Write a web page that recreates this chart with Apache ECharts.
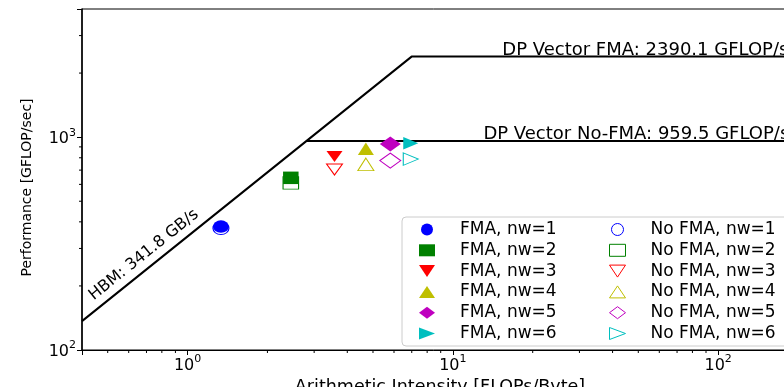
<!DOCTYPE html>
<html>
<head>
<meta charset="utf-8">
<script src="https://cdn.jsdelivr.net/npm/echarts@6/dist/echarts.min.js"></script>
<style>
    html, body { margin: 0; padding: 0; background: #fff; }
    #roofline-chart { width: 784px; height: 387px; }
</style>
</head>
<body>
<div id="roofline-chart"></div>
<script>
// measured kernels, one point per worker count
var workers = [1, 2, 3, 4, 5, 6];
var intensity = [1.336, 2.45, 3.58, 4.70, 5.81, 6.94];
var perfFma = [380, 644, 812, 882, 929, 937];
var perfNoFma = [373, 610, 705, 745, 776, 789];

// roofs
var roofFma = [[0.4, 136.7], [6.99, 2390.1], [200, 2390.1]];
var roofNoFma = [[2.807, 959.5], [200, 959.5]];
var roofText = [[15.3, 2556, 'DP Vector FMA: 2390.1 GFLOP/s'], [12.98, 1031, 'DP Vector No-FMA: 959.5 GFLOP/s']];
var hbmText = [[0.685, 280, 'HBM: 341.8 GB/s']];

// axes
var xRange = [0.4, 200];
var yRange = [100, 4000];
var xMinor = [0.5, 0.6, 0.7, 0.8, 0.9, 2, 3, 4, 5, 6, 7, 8, 9, 20, 30, 40, 50, 60, 70, 80, 90];
var yMinor = [200, 300, 400, 500, 600, 700, 800, 900, 2000, 3000];

var colors = ['#0000ff', '#008000', '#ff0000', '#bfbf00', '#bf00bf', '#00bfbf'];
var symbols = [
    'circle',
    'rect',
    'path://M0,0L10,0L5,10Z',
    'path://M5,0L10,10L0,10Z',
    'diamond',
    'path://M0,0L10,5L0,10Z'
];
var sizes = [[16, 12.5], [15.5, 12.5], [16, 11], [16, 12.5], [21, 15], [15, 12.5]];

var font = 'DejaVu Sans';

function powLabel(v) {
    var e = Math.log10(v);
    var r = Math.round(e);
    if (Math.abs(e - r) > 1e-6) return '';
    return '{b|10}{s|' + r + '}';
}

var labelRich = {
    b: { fontFamily: font, fontSize: 16, color: '#000', padding: [4, 0, 0, 0] },
    s: { fontFamily: font, fontSize: 11, color: '#000', verticalAlign: 'top' }
};

var fmaLegend = [], noFmaLegend = [];
var series = [];

series.push({
    type: 'line', data: roofFma, symbol: 'none', silent: true, z: 2,
    lineStyle: { color: '#000', width: 2 }
});
series.push({
    type: 'line', data: roofNoFma, symbol: 'none', silent: true, z: 2,
    lineStyle: { color: '#000', width: 2 }
});

workers.forEach(function (w, i) {
    var a = 'FMA, nw=' + w;
    var b = 'No FMA, nw=' + w;
    fmaLegend.push({
        name: a, icon: symbols[i],
        itemStyle: { color: colors[i], borderWidth: 0, opacity: 1 }
    });
    noFmaLegend.push({
        name: b, icon: symbols[i],
        itemStyle: { color: 'rgba(255,255,255,0)', borderColor: colors[i], borderWidth: 1, opacity: 1 }
    });
    series.push({
        name: b, type: 'scatter', z: 3,
        data: [[intensity[i], perfNoFma[i]]],
        symbol: symbols[i], symbolSize: sizes[i],
        itemStyle: { color: 'rgba(255,255,255,0)', borderColor: colors[i], borderWidth: 1, opacity: 1 }
    });
    series.push({
        name: a, type: 'scatter', z: 4,
        data: [[intensity[i], perfFma[i]]],
        symbol: symbols[i], symbolSize: sizes[i],
        itemStyle: { color: colors[i], borderWidth: 0, opacity: 1 }
    });
});

// text on the roofs
series.push({
    type: 'scatter', data: roofText, symbolSize: 1, silent: true, z: 5,
    itemStyle: { color: 'rgba(0,0,0,0)' },
    label: {
        show: true, position: 'right', distance: 0, opacity: 1,
        fontFamily: font, fontSize: 18, color: '#000',
        formatter: function (p) { return p.data[2]; }
    }
});
series.push({
    type: 'scatter', data: hbmText, symbolSize: 1, silent: true, z: 5,
    itemStyle: { color: 'rgba(0,0,0,0)' },
    label: {
        show: true, position: 'inside', rotate: 38.8, opacity: 1,
        fontFamily: font, fontSize: 16, color: '#000',
        formatter: function (p) { return p.data[2]; }
    }
});

// minor ticks
series.push({
    type: 'custom', silent: true, clip: false,
    data: xMinor.map(function (v) { return [v, yRange[0]]; }),
    renderItem: function (params, api) {
        var p = api.coord([api.value(0), api.value(1)]);
        return { type: 'line', shape: { x1: p[0], y1: p[1], x2: p[0], y2: p[1] + 3 }, style: { stroke: '#000', lineWidth: 1 } };
    }
});
series.push({
    type: 'custom', silent: true, clip: false,
    data: yMinor.map(function (v) { return [xRange[0], v]; }),
    renderItem: function (params, api) {
        var p = api.coord([api.value(0), api.value(1)]);
        return { type: 'line', shape: { x1: p[0], y1: p[1], x2: p[0] - 3, y2: p[1] }, style: { stroke: '#000', lineWidth: 1 } };
    }
});

var legendBase = {
    orient: 'vertical', top: 217,
    itemWidth: 16, itemHeight: 12, itemGap: 3.8,
    symbolKeepAspect: false, selectedMode: false,
    textStyle: { fontFamily: font, fontSize: 17, color: '#000', padding: [0, 0, 0, 20] }
};

var myChart = echarts.init(document.getElementById('roofline-chart'));
var option = {
    animation: false,
    backgroundColor: '#fff',
    grid: {
        left: 82, top: 9, bottom: 37, right: -14,
        outerBoundsMode: 'none',
        show: true, borderColor: '#000', borderWidth: 1
    },
    legend: [
        echarts.util.merge({
            data: fmaLegend, left: 402, padding: [4, 400, 4, 17],
            backgroundColor: 'rgba(255,255,255,0.8)', borderColor: '#cccccc', borderWidth: 1, borderRadius: 4
        }, legendBase),
        echarts.util.merge({
            data: noFmaLegend, left: 609, padding: [4, 0, 4, 0]
        }, legendBase)
    ],
    xAxis: {
        type: 'log', logBase: 10, min: xRange[0], max: xRange[1],
        name: 'Arithmetic Intensity [FLOPs/Byte]', nameLocation: 'middle', nameGap: 25,
        nameTextStyle: { fontFamily: font, fontSize: 17.5, color: '#000' },
        axisLine: { lineStyle: { color: '#000', width: 1 } },
        axisTick: { length: 5, lineStyle: { color: '#000' } },
        splitLine: { show: false },
        axisLabel: { margin: 4, formatter: powLabel, rich: labelRich }
    },
    yAxis: {
        type: 'log', logBase: 10, min: yRange[0], max: yRange[1],
        name: 'Performance [GFLOP/sec]', nameLocation: 'middle', nameGap: 48,
        nameTextStyle: { fontFamily: font, fontSize: 14, color: '#000', padding: [0, 16, 0, 0] },
        axisLine: { lineStyle: { color: '#000', width: 1.5 } },
        axisTick: { length: 5, lineStyle: { color: '#000' } },
        splitLine: { show: false },
        axisLabel: { margin: 6, formatter: powLabel, rich: labelRich }
    },
    series: series
};
myChart.setOption(option);
</script>
</body>
</html>
